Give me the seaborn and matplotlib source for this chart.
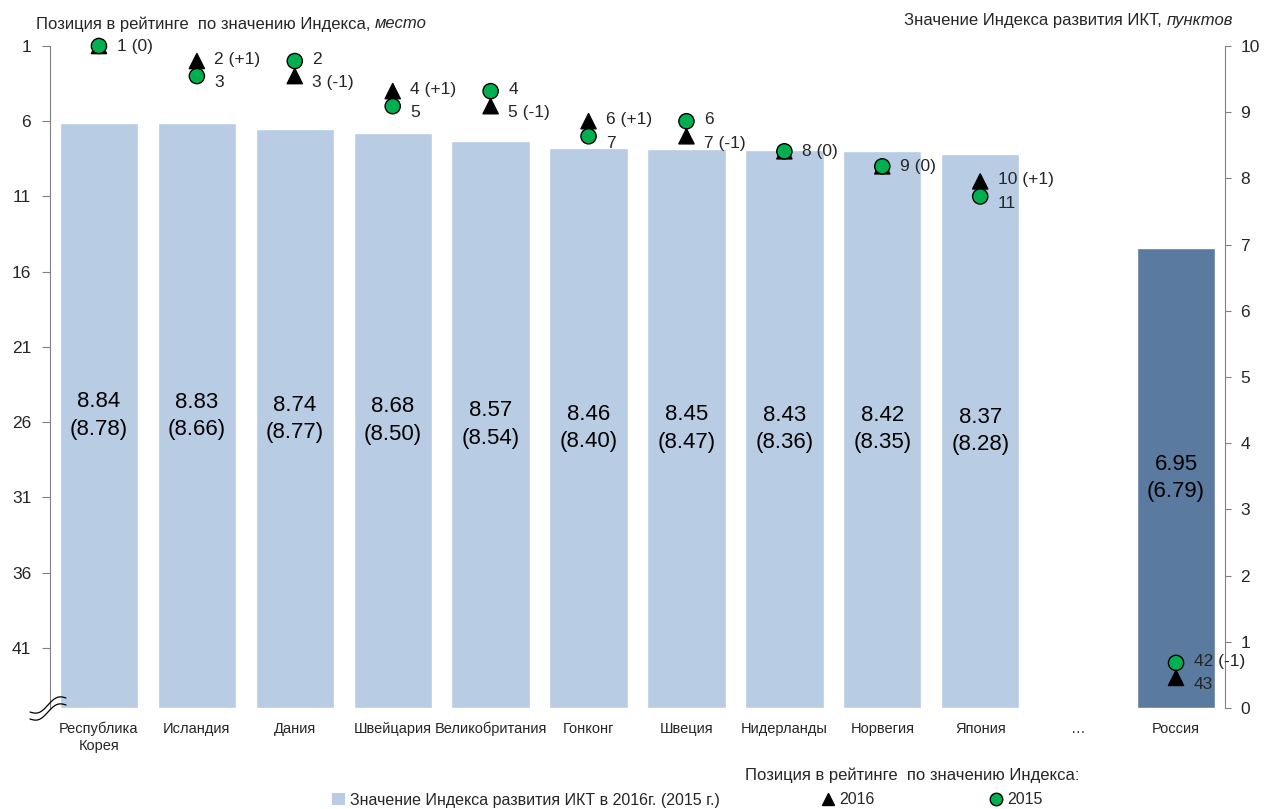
import numpy as np
import pandas as pd
import seaborn as sns
import matplotlib.pyplot as plt
from matplotlib.lines import Line2D
from matplotlib.patches import Patch
from matplotlib import font_manager

# data
countries = ['Республика\nКорея', 'Исландия', 'Дания', 'Швейцария', 'Великобритания',
             'Гонконг', 'Швеция', 'Нидерланды', 'Норвегия', 'Япония', '…', 'Россия']
idx_2016 = [8.84, 8.83, 8.74, 8.68, 8.57, 8.46, 8.45, 8.43, 8.42, 8.37, np.nan, 6.95]
idx_2015 = [8.78, 8.66, 8.77, 8.50, 8.54, 8.40, 8.47, 8.36, 8.35, 8.28, np.nan, 6.79]
rank_2016 = [1, 2, 3, 4, 5, 6, 7, 8, 9, 10, np.nan, 43]
rank_2015 = [1, 3, 2, 5, 4, 7, 6, 8, 9, 11, np.nan, 42]
label_2016 = ['1 (0)', '2 (+1)', '3 (-1)', '4 (+1)', '5 (-1)', '6 (+1)', '7 (-1)',
              '8 (0)', '9 (0)', '10 (+1)', '', '43']
label_2015 = ['', '3', '2', '5', '4', '7', '6', '', '', '11', '', '42 (-1)']
rank_ticks = [1, 6, 11, 16, 21, 26, 31, 36, 41]
value_ticks = list(range(0, 11))

light = '#b8cce4'
dark = '#5b7aa0'
green = '#00b050'
spine_c = '#808080'

sns.set_style('white')
names = {f.name for f in font_manager.fontManager.ttflist}
fam = 'Liberation Sans Narrow' if 'Liberation Sans Narrow' in names else 'Liberation Sans'
plt.rcParams['font.family'] = [fam, 'DejaVu Sans']

fig = plt.figure(figsize=(12.64, 8.09), dpi=100)
W, H = 1264, 809
ax = fig.add_axes([50 / W, 1 - 708 / H, (1225 - 50) / W, (708 - 46) / H])

df = pd.DataFrame({'country': countries, 'idx': idx_2016})
pal = {c: (dark if c == 'Россия' else light) for c in countries}
sns.barplot(data=df, x='country', y='idx', hue='country', palette=pal, order=countries,
            hue_order=countries, legend=False, width=0.8, saturation=1, ax=ax)

for i, (v, p) in enumerate(zip(idx_2016, idx_2015)):
    if not np.isnan(v):
        ax.text(i, v / 2, f'{v:.2f}\n({p:.2f})', ha='center', va='center',
                fontsize=16, linespacing=1.4, color='black')

axr = ax.twinx()
ax.yaxis.tick_right()
axr.yaxis.tick_left()

ax.set_xlim(-0.5, len(countries) - 0.5)
ax.set_ylim(0, 10)
ax.set_yticks(value_ticks)
ax.set_xlabel('')
ax.set_ylabel('')
ax.tick_params(axis='x', length=0, pad=10, labelsize=10.5)
ax.tick_params(axis='y', right=True, left=False, labelright=True, labelleft=False,
               direction='out', length=4.5, color=spine_c, labelsize=12.5, pad=6.5)
for s in ['top', 'bottom', 'left']:
    ax.spines[s].set_visible(False)
ax.spines['right'].set_color(spine_c)

# ranks
pos = list(range(len(countries)))
rdf = pd.DataFrame({
    'pos': pos + pos,
    'rank': rank_2016 + rank_2015,
    'year': ['2016'] * len(pos) + ['2015'] * len(pos),
}).dropna()
sns.scatterplot(data=rdf, x='pos', y='rank', hue='year', style='year',
                markers={'2016': '^', '2015': 'o'},
                palette={'2016': 'black', '2015': green},
                s=120, edgecolor='black', linewidth=1, legend=False, ax=axr,
                clip_on=False, zorder=3)

# rank labels: upper label at its marker, lower one nudged down a bit
for i in pos:
    a, b = rank_2016[i], rank_2015[i]
    if np.isnan(a):
        continue
    if label_2015[i] == '':
        axr.text(i + 0.18, a, label_2016[i], ha='left', va='center', fontsize=12.5)
        continue
    for r, lab, other in ((a, label_2016[i], b), (b, label_2015[i], a)):
        dy = -0.1 if r < other else 0.45
        axr.text(i + 0.18, r + dy, lab, ha='left', va='center', fontsize=12.5)

axr.set_ylim(45, 1)
axr.set_yticks(rank_ticks)
axr.set_xlim(-0.5, len(countries) - 0.5)
axr.set_xlabel('')
axr.set_ylabel('')
axr.tick_params(axis='y', left=True, right=False, labelleft=True, labelright=False,
                direction='out', length=5.5, color=spine_c, labelsize=12.5, pad=8)
for s in ['top', 'bottom', 'right']:
    axr.spines[s].set_visible(False)
axr.spines['left'].set_color(spine_c)

# axis break symbol
t = np.linspace(0, 1, 60)
for off in (0, 7):
    xs = (30 + 36 * t) / W
    ys = 1 - (719 - 14 * t + 4 * np.sin(2 * np.pi * t) + off - 7) / H
    fig.add_artist(Line2D(xs, ys, color='black', lw=0.9))

# titles
t1 = fig.text(36 / W, 1 - 24 / H, 'Позиция в рейтинге  по значению Индекса, ',
              ha='left', va='center', fontsize=12)
fig.canvas.draw()
bb = t1.get_window_extent()
fig.text(bb.x1 / W, 1 - 24 / H, 'место', ha='left', va='center', fontsize=12,
         style='italic')
t2 = fig.text(1233 / W, 1 - 20 / H, 'пунктов', ha='right', va='center', fontsize=12,
              style='italic')
fig.canvas.draw()
bb2 = t2.get_window_extent()
fig.text(bb2.x0 / W, 1 - 20 / H, 'Значение Индекса развития ИКТ, ', ha='right',
         va='center', fontsize=12)

# legend
fig.text(745 / W, 1 - 775 / H, 'Позиция в рейтинге  по значению Индекса:',
         ha='left', va='center', fontsize=12)
legend_items = [
    (Patch(facecolor=light, edgecolor='none'),
     'Значение Индекса развития ИКТ в 2016г. (2015 г.)', 332),
    (Line2D([], [], marker='^', color='black', ls='none', markersize=9), '2016', 822),
    (Line2D([], [], marker='o', markerfacecolor=green, markeredgecolor='black',
            ls='none', markersize=9), '2015', 990),
]
for h, lab, x0 in legend_items:
    fig.legend(handles=[h], labels=[lab], loc='center left',
               bbox_to_anchor=(x0 / W, 1 - 800 / H), frameon=False,
               fontsize=11.5, handlelength=0.8, handletextpad=0.3,
               borderpad=0, borderaxespad=0)

fig.savefig('out.png', dpi=100)
